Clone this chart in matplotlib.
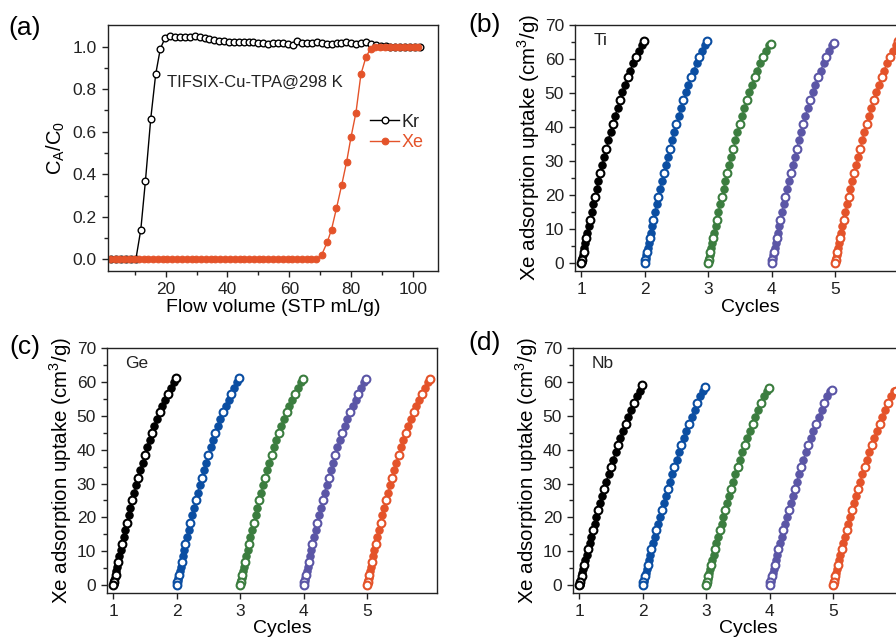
import matplotlib.pyplot as plt

plt.rcParams['font.family'] = ['Liberation Sans', 'DejaVu Sans']
plt.rcParams['mathtext.fontset'] = 'custom'
plt.rcParams['mathtext.rm'] = 'Liberation Sans'

# (a) breakthrough curves, TIFSIX-Cu-TPA @ 298 K
kr_flow = [2.5, 4.1, 5.7, 7.3, 8.8, 10.4, 12.0, 13.5, 15.2, 16.8, 18.3, 19.8, 21.5,
           23.1, 24.6, 26.2, 27.8, 29.4, 31.0, 32.6, 34.1, 35.7, 37.3, 38.9, 40.5,
           42.0, 43.6, 45.2, 46.8, 48.4, 50.0, 51.5, 53.1, 54.7, 56.3, 57.9, 59.4,
           61.0, 62.6, 64.2, 65.8, 67.4, 68.9, 70.5, 72.1, 73.7, 75.3, 76.8, 78.4,
           80.0, 81.6, 83.2, 84.7, 86.3, 87.9, 89.5, 91.1, 92.6, 94.2, 95.8, 97.4,
           99.0, 100.5, 102.1]
kr_ratio = [0, 0, 0, 0, 0, 0, 0.14, 0.37, 0.66, 0.87, 0.99, 1.04, 1.05,
            1.045, 1.045, 1.047, 1.047, 1.05, 1.045, 1.04, 1.035, 1.03, 1.027, 1.025, 1.02,
            1.02, 1.02, 1.02, 1.02, 1.02, 1.018, 1.015, 1.013, 1.018, 1.018, 1.015, 1.012,
            1.01, 1.025, 1.018, 1.015, 1.015, 1.02, 1.018, 1.012, 1.012, 1.018, 1.015, 1.022,
            1.015, 1.012, 1.015, 1.02, 1.012, 1.008, 1.005, 1.003, 1.0, 1.0, 1.0, 1.0,
            1.0, 1.0, 1.0]
xe_flow = [2.0, 3.6, 5.1, 6.7, 8.2, 9.8, 11.3, 12.9, 14.4, 16.0, 17.5, 19.1, 20.6,
           22.2, 23.7, 25.3, 26.8, 28.4, 29.9, 31.5, 33.0, 34.6, 36.1, 37.7, 39.2,
           40.8, 42.3, 43.9, 45.4, 47.0, 48.5, 50.1, 51.6, 53.2, 54.7, 56.3, 57.8,
           59.4, 60.9, 62.5, 64.0, 65.6, 67.1, 68.7, 70.4, 72.2, 73.6, 75.2, 76.9,
           78.5, 79.9, 81.5, 83.1, 84.7, 86.2, 87.8, 89.3, 90.9, 92.4, 94.0, 95.5,
           97.1, 98.6, 100.2, 101.7]
xe_ratio = [0.0] * 44 + [0.02, 0.08, 0.14, 0.24, 0.35, 0.46, 0.575, 0.69, 0.87, 0.95,
                         0.99] + [1.0] * 10

# (b)-(d) Xe uptake over five adsorption cycles
cycles = [1, 2, 3, 4, 5]
cycle_offset = [0.000, 0.003, 0.006, 0.010, 0.016, 0.024, 0.034, 0.046, 0.060, 0.076,
                0.094, 0.114, 0.136, 0.160, 0.186, 0.212, 0.240, 0.268, 0.298, 0.328,
                0.360, 0.392, 0.426, 0.460, 0.496, 0.532, 0.570, 0.608, 0.648, 0.688,
                0.730, 0.772, 0.816, 0.860, 0.906, 0.952, 0.984]
ti_uptake = [0, 0.3, 0.6, 1.0, 1.6, 2.4, 3.3, 4.5, 5.8, 7.3, 9.0, 10.8, 12.8, 15.0,
             17.3, 19.5, 21.8, 24.1, 26.5, 28.9, 31.3, 33.7, 36.1, 38.5, 40.9, 43.2,
             45.6, 47.9, 50.2, 52.4, 54.6, 56.6, 58.7, 60.6, 62.4, 64.0]
ti_final = [65.3, 65.2, 64.4, 64.8, 65.2]
ge_uptake = [0, 0.3, 0.6, 0.9, 1.5, 2.2, 3.1, 4.2, 5.5, 6.9, 8.5, 10.3, 12.1, 14.2,
             16.3, 18.4, 20.6, 22.8, 25.0, 27.2, 29.5, 31.7, 34.0, 36.2, 38.5, 40.7,
             42.9, 45.0, 47.1, 49.1, 51.1, 53.0, 54.8, 56.5, 58.2, 59.9]
ge_final = [61.1, 61.1, 60.9, 60.9, 60.8]
nb_uptake = [0, 0.2, 0.5, 0.8, 1.3, 1.9, 2.7, 3.7, 4.8, 6.0, 7.4, 9.0, 10.6, 12.4,
             14.3, 16.2, 18.2, 20.2, 22.3, 24.3, 26.4, 28.5, 30.6, 32.7, 34.9, 37.0,
             39.2, 41.3, 43.5, 45.6, 47.7, 49.7, 51.8, 53.8, 55.7, 57.4]
nb_final = [59.0, 58.5, 58.2, 57.5, 57.3]

cycle_colors = ['#000000', '#0b4ea2', '#3b7d3f', '#5b56a6', '#e4532a']
xe_color = '#e4532a'

W, H = 896, 642
fig = plt.figure(figsize=(W / 100, H / 100), dpi=100)


def rect(left, top, right, bottom):
    return [left / W, 1 - bottom / H, (right - left) / W, (bottom - top) / H]


def style_axes(ax):
    for sp in ax.spines.values():
        sp.set_linewidth(1.0)
        sp.set_color('#222222')
    ax.tick_params(which='both', direction='out', colors='#222222',
                   labelsize=12.5, width=1.0, top=False, right=False)
    ax.tick_params(which='major', length=4.5)
    ax.tick_params(which='minor', length=2.8)


# (a)
ax = fig.add_axes(rect(108, 25, 438, 271))
ax.plot(kr_flow, kr_ratio, '-o', color='black', lw=1.0, ms=4.8,
        mfc='white', mec='black', mew=1.0, label='Kr')
ax.plot(xe_flow, xe_ratio, '-o', color=xe_color, lw=1.0, ms=4.8,
        mfc=xe_color, mec=xe_color, mew=0.8, label='Xe')
ax.set_xlim(1.4, 108)
ax.set_ylim(-0.055, 1.102)
ax.set_xticks([20, 40, 60, 80, 100])
ax.set_xticks(range(10, 101, 20), minor=True)
ax.set_yticks([0.0, 0.2, 0.4, 0.6, 0.8, 1.0])
ax.set_yticks([0.1, 0.3, 0.5, 0.7, 0.9], minor=True)
ax.set_yticklabels(['0.0', '0.2', '0.4', '0.6', '0.8', '1.0'])
style_axes(ax)
ax.set_xlabel('Flow volume (STP mL/g)', fontsize=14, labelpad=1)
ax.set_ylabel(r'C$_\mathregular{A}$/C$_\mathregular{0}$', fontsize=14.5, labelpad=4)
ax.text(20.4, 0.834, 'TIFSIX-Cu-TPA@298 K', fontsize=12, va='center', color='#222222')
leg = ax.legend(loc='upper left', bbox_to_anchor=(0.795, 0.64), frameon=False,
                fontsize=13, handlelength=1.6, handletextpad=0.15, labelspacing=0.2,
                borderaxespad=0, borderpad=0)
for txt, c in zip(leg.get_texts(), ['#222222', xe_color]):
    txt.set_color(c)
fig.text(25 / W, 1 - 28 / H, '(a)', fontsize=19, ha='center', va='center')


def draw_cycles(ax, uptake, finals, tag):
    n = len(cycle_offset)
    for cyc, color, peak in zip(cycles, cycle_colors, finals):
        x = [cyc + o for o in cycle_offset]
        y = uptake + [peak]
        ax.plot(x, y, '-o', color=color, lw=1.0, ms=5.3, mfc=color, mec=color, mew=0.8)
        ax.plot(x[n - 1::-3], y[n - 1::-3], 'o', ms=5.6, mfc='white', mec=color,
                mew=1.5, zorder=3)
    ax.set_xlim(0.9, 6.1)
    ax.set_ylim(-2.3, 70)
    ax.set_xticks(cycles)
    ax.set_yticks(range(0, 71, 10))
    ax.set_yticks(range(5, 70, 10), minor=True)
    style_axes(ax)
    ax.set_xlabel('Cycles', fontsize=14)
    ax.xaxis.set_label_coords(0.53, -0.112)
    ax.set_ylabel(r'Xe adsorption uptake (cm$^\mathregular{3}$/g)', fontsize=14.8, labelpad=2)
    ax.text(0.055, 0.935, tag, transform=ax.transAxes, fontsize=12.5, va='center',
            color='#222222')


ax_b = fig.add_axes(rect(575, 25, 905, 271))
draw_cycles(ax_b, ti_uptake, ti_final, 'Ti')
fig.text(485 / W, 1 - 25 / H, '(b)', fontsize=19, ha='center', va='center')

ax_c = fig.add_axes(rect(107, 348, 437, 593))
draw_cycles(ax_c, ge_uptake, ge_final, 'Ge')
fig.text(25 / W, 1 - 347 / H, '(c)', fontsize=19, ha='center', va='center')

ax_d = fig.add_axes(rect(573, 348, 903, 593))
draw_cycles(ax_d, nb_uptake, nb_final, 'Nb')
fig.text(485 / W, 1 - 343 / H, '(d)', fontsize=19, ha='center', va='center')

fig.savefig('out.png', dpi=100)
